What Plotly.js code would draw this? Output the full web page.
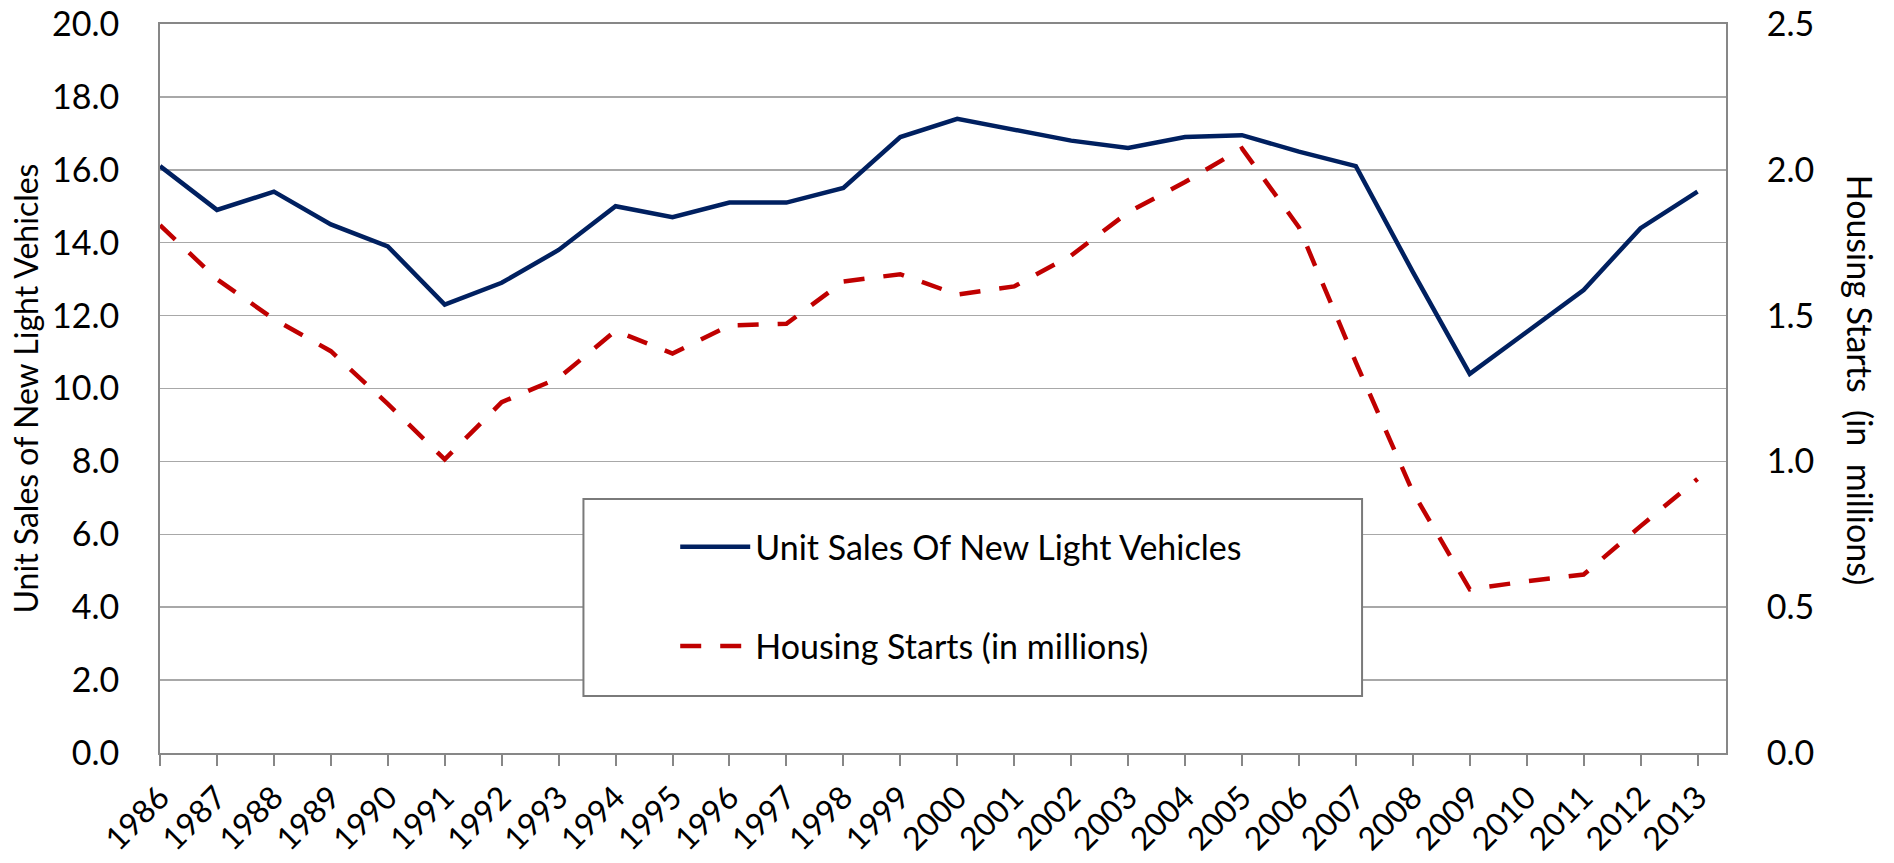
<!DOCTYPE html>
<html>
<head>
<meta charset="utf-8">
<script src="https://cdn.plot.ly/plotly-3.0.1.min.js"></script>
<style>html,body{margin:0;padding:0;background:#fff;}#chart{width:1894px;height:863px;}</style>
</head>
<body>
<div id="chart"></div>
<script>
const years = [1986,1987,1988,1989,1990,1991,1992,1993,1994,1995,1996,1997,1998,1999,2000,2001,2002,2003,2004,2005,2006,2007,2008,2009,2010,2011,2012,2013];
const vehicleSales = [16.1,14.9,15.4,14.5,13.9,12.3,12.9,13.8,15.0,14.7,15.1,15.1,15.5,16.9,17.4,17.1,16.8,16.6,16.9,16.95,16.5,16.1,13.2,10.4,11.55,12.7,14.4,15.4];
const housingStarts = [1.81,1.625,1.488,1.378,1.197,1.007,1.203,1.286,1.448,1.37,1.466,1.472,1.617,1.642,1.572,1.6,1.706,1.854,1.958,2.073,1.803,1.34,0.895,0.561,0.589,0.612,0.778,0.94];
const tickLabels = years.map(String);
const leftTicks = [0,2,4,6,8,10,12,14,16,18,20];
const rightTicks = [0,0.5,1.0,1.5,2.0,2.5];

const FONT = "Lato, 'Open Sans', 'DejaVu Sans', sans-serif";
const AX = '#878787', GRID = '#a8a8a8';

const traces = [
  {x: years, y: vehicleSales, type:'scatter', mode:'lines', name:'Unit Sales Of New Light Vehicles',
   line:{color:'#002060', width:4.5}, legendgroup:'a', yaxis:'y'},
  {x: years, y: housingStarts, type:'scatter', mode:'lines', name:'Housing Starts (in millions)',
   line:{color:'#c00000', width:4.5, dash:'21px,19px'}, legendgroup:'b', yaxis:'y2'}
];

const layout = {
  width:1894, height:863,
  margin:{l:160, r:168, t:24, b:110},
  paper_bgcolor:'#fff', plot_bgcolor:'#fff',
  font:{family:FONT, color:'#000', size:32},
  showlegend:true,
  legend:{x:0.329, y:0.322, xanchor:'left', yanchor:'top', bgcolor:'rgba(0,0,0,0)', borderwidth:0,
          font:{family:FONT, size:34, color:'#000'}, itemwidth:70, traceorder:'grouped', tracegroupgap:52},
  xaxis:{range:[1986,2013.5], tickvals:years, ticktext:tickLabels, tickangle:-45,
         showgrid:false, zeroline:false, showline:true, linecolor:AX, linewidth:2, mirror:true,
         ticks:'outside', ticklen:11, tickwidth:2, tickcolor:AX, tickfont:{size:32, family:FONT}},
  yaxis:{range:[0,20], tickvals:leftTicks, ticktext:leftTicks.map(v=>v.toFixed(1)),
         showgrid:true, gridcolor:GRID, gridwidth:1.5, zeroline:false, showline:true, linecolor:AX, linewidth:2,
         ticks:'', ticklabelstandoff:32, tickfont:{size:34, family:FONT},
         title:{text:'Unit Sales of New Light Vehicles', font:{size:32, family:FONT}, standoff:4}},
  yaxis2:{range:[0,2.5], overlaying:'y', side:'right', tickvals:rightTicks, ticktext:rightTicks.map(v=>v.toFixed(1)),
          showgrid:false, zeroline:false, showline:true, linecolor:AX, linewidth:2,
          ticks:'', ticklabelstandoff:32, tickfont:{size:34, family:FONT}},
  shapes:[{type:'rect', xref:'paper', yref:'paper', x0:0.2704, x1:0.7676, y0:0.0782, y1:0.3484,
           fillcolor:'#fff', line:{color:'#7a7a7a', width:2}, layer:'above'}],
  annotations:[{text:'Housing Starts  (in  millions)', xref:'paper', yref:'paper', x:1.0856, y:0.512,
                textangle:90, showarrow:false, font:{size:34, family:FONT, color:'#000'},
                xanchor:'center', yanchor:'middle'}]
};

Plotly.newPlot('chart', traces, layout, {displayModeBar:false, staticPlot:true});
</script>
</body>
</html>
